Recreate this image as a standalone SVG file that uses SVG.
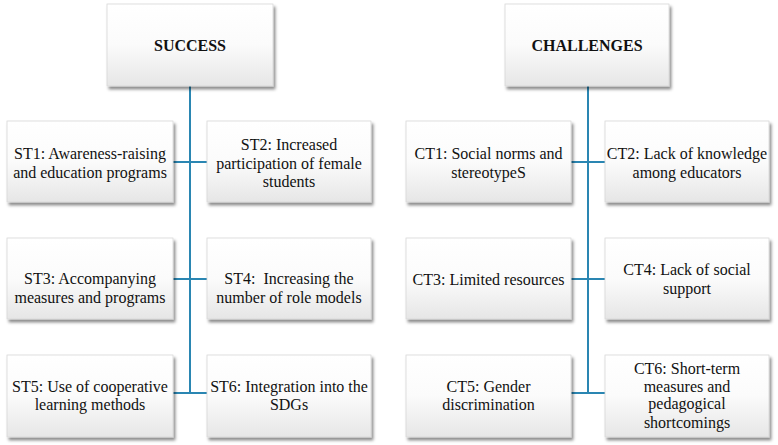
<svg xmlns="http://www.w3.org/2000/svg" width="778" height="445" viewBox="0 0 778 445">
<defs>
<linearGradient id="g" x1="0" y1="0" x2="0" y2="1">
<stop offset="0" stop-color="#ffffff"/>
<stop offset="0.5" stop-color="#fbfbfb"/>
<stop offset="1" stop-color="#e6e6e6"/>
</linearGradient>
<filter id="sh" x="-10%" y="-10%" width="125%" height="130%">
<feDropShadow dx="2" dy="3" stdDeviation="1.8" flood-color="#000" flood-opacity="0.45"/>
</filter>
</defs>
<style>
.box{fill:url(#g);stroke:#d8d8d8;stroke-width:0.8;filter:url(#sh)}
.t{font-family:'Liberation Serif','Tinos','Times New Roman','DejaVu Serif',serif;font-size:16px;fill:#111;text-anchor:middle}
.h{font-weight:bold}
.c{stroke:#2a86b2;stroke-width:2;fill:none}
</style>
<rect width="778" height="445" fill="#ffffff"/>
<g id="connectors">
<path class="c" d="M190 86V393M173 162H207M173 279H207M173 393H207"/>
<path class="c" d="M588 86V393M571 162H605M571 279H605M571 393H605"/>
</g>
<g id="success">
<rect class="box" x="107" y="4" width="166" height="82"/>
<text class="t h" x="190" y="51" font-family="Liberation Serif, serif">SUCCESS</text>
</g>
<g id="st1">
<rect class="box" x="7" y="121" width="166" height="81"/>
<text class="t" x="90" y="159">ST1: Awareness-raising</text>
<text class="t" x="90" y="178">and education programs</text>
</g>
<g id="st2">
<rect class="box" x="207" y="121" width="164" height="81"/>
<text class="t" x="289" y="150">ST2: Increased</text>
<text class="t" x="289" y="169">participation of female</text>
<text class="t" x="289" y="187">students</text>
</g>
<g id="st3">
<rect class="box" x="7" y="238" width="166" height="81"/>
<text class="t" x="90" y="284">ST3: Accompanying</text>
<text class="t" x="90" y="303">measures and programs</text>
</g>
<g id="st4">
<rect class="box" x="207" y="238" width="164" height="81"/>
<text class="t" x="289" y="284" xml:space="preserve">ST4:  Increasing the</text>
<text class="t" x="289" y="303">number of role models</text>
</g>
<g id="st5">
<rect class="box" x="7" y="355" width="166" height="82"/>
<text class="t" x="90" y="392">ST5: Use of cooperative</text>
<text class="t" x="90" y="410">learning methods</text>
</g>
<g id="st6">
<rect class="box" x="207" y="355" width="164" height="82"/>
<text class="t" x="289" y="392">ST6: Integration into the</text>
<text class="t" x="289" y="410">SDGs</text>
</g>
<g id="challenges">
<rect class="box" x="505" y="4" width="164" height="82"/>
<text class="t h" x="587" y="51">CHALLENGES</text>
</g>
<g id="ct1">
<rect class="box" x="406" y="121" width="165" height="81"/>
<text class="t" x="488.5" y="159">CT1: Social norms and</text>
<text class="t" x="488.5" y="178">stereotypeS</text>
</g>
<g id="ct2">
<rect class="box" x="605" y="121" width="164" height="81"/>
<text class="t" x="687" y="159">CT2: Lack of knowledge</text>
<text class="t" x="687" y="178">among educators</text>
</g>
<g id="ct3">
<rect class="box" x="406" y="238" width="165" height="81"/>
<text class="t" x="488.5" y="285">CT3: Limited resources</text>
</g>
<g id="ct4">
<rect class="box" x="605" y="238" width="164" height="81"/>
<text class="t" x="687" y="275">CT4: Lack of social</text>
<text class="t" x="687" y="294">support</text>
</g>
<g id="ct5">
<rect class="box" x="406" y="355" width="165" height="82"/>
<text class="t" x="488.5" y="392">CT5: Gender</text>
<text class="t" x="488.5" y="410">discrimination</text>
</g>
<g id="ct6">
<rect class="box" x="605" y="355" width="164" height="82"/>
<text class="t" x="687" y="374">CT6: Short-term</text>
<text class="t" x="687" y="392">measures and</text>
<text class="t" x="687" y="409">pedagogical</text>
<text class="t" x="687" y="428">shortcomings</text>
</g>
</svg>
